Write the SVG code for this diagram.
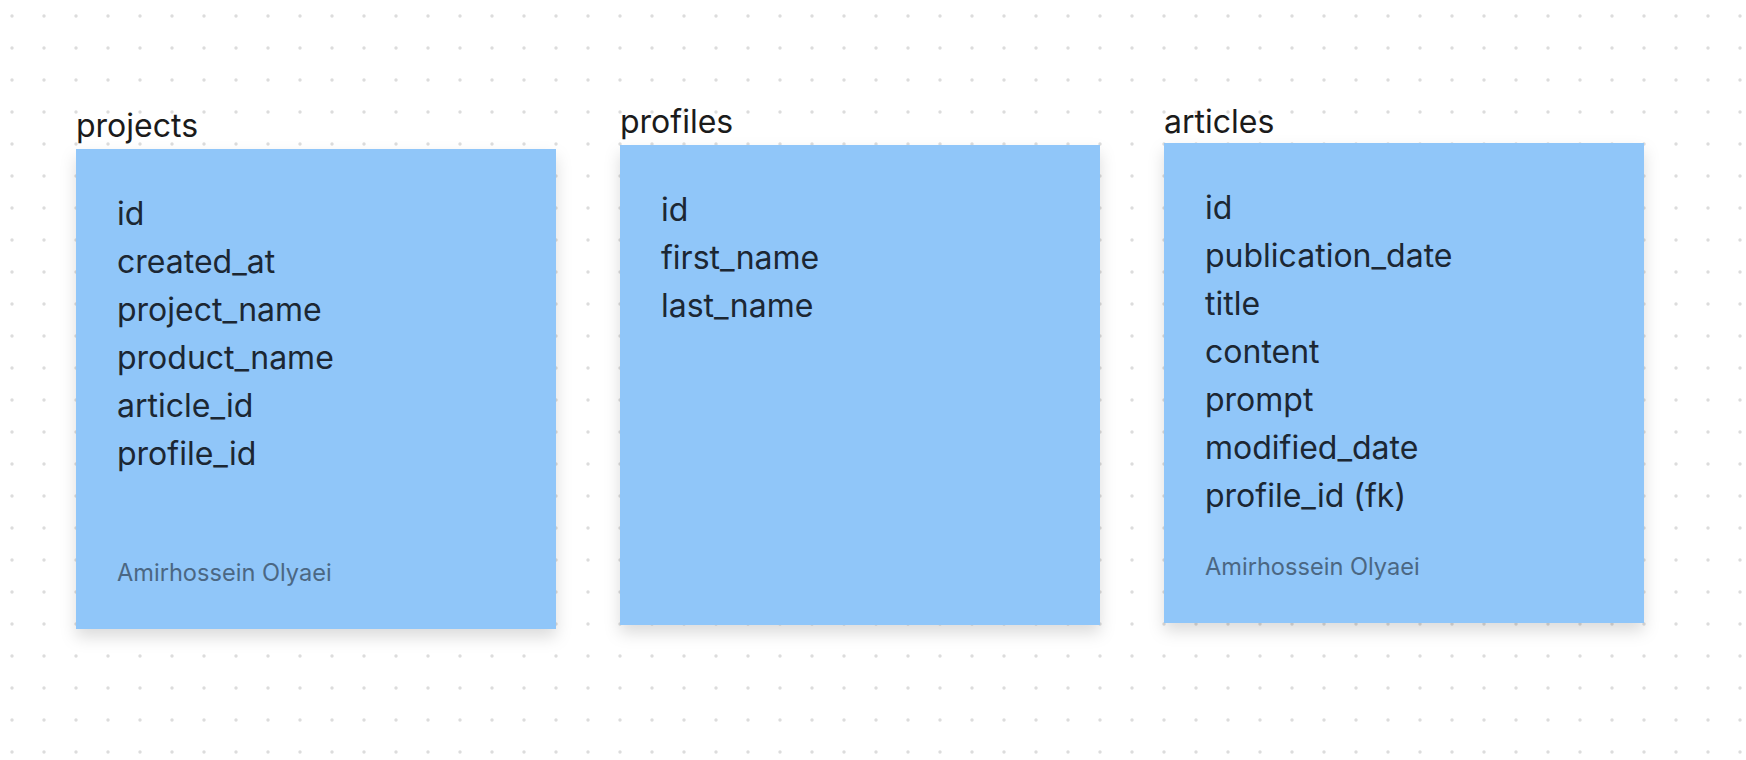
<svg xmlns="http://www.w3.org/2000/svg" width="1746" height="760" viewBox="0 0 1746 760">
  <defs>
    <pattern id="dots" x="0" y="0" width="32" height="32" patternUnits="userSpaceOnUse">
      <circle cx="12" cy="16" r="1.7" fill="#dcdcdc"/>
    </pattern>
    <filter id="shadow" x="-10%" y="-10%" width="120%" height="130%">
      <feDropShadow dx="0" dy="8" stdDeviation="8" flood-color="#000000" flood-opacity="0.14"/>
    </filter>
    <style>
      .card { fill: #90c6f9; filter: url(#shadow); }
      .title { font-family: Inter, "Liberation Sans", sans-serif; font-size: 32px; fill: #1b1b1b; }
      .row { font-family: Inter, "Liberation Sans", sans-serif; font-size: 32px; fill: #1c2733; }
      .author { font-family: Inter, "Liberation Sans", sans-serif; font-size: 23.6px; fill: #4b6783; }
    </style>
  </defs>
  <rect x="0" y="0" width="1746" height="760" fill="#ffffff"/>
  <rect x="0" y="0" width="1746" height="760" fill="url(#dots)"/>

  <g id="connectors"></g>

  <g id="projects">
    <text class="title" x="76" y="137">projects</text>
    <rect class="card" x="76" y="149" width="480" height="480"/>
    <text class="row" x="117" y="225">id</text>
    <text class="row" x="117" y="273">created_at</text>
    <text class="row" x="117" y="321">project_name</text>
    <text class="row" x="117" y="369">product_name</text>
    <text class="row" x="117" y="417">article_id</text>
    <text class="row" x="117" y="465">profile_id</text>
    <text class="author" x="117" y="581">Amirhossein Olyaei</text>
  </g>

  <g id="profiles">
    <text class="title" x="620" y="133">profiles</text>
    <rect class="card" x="620" y="145" width="480" height="480"/>
    <text class="row" x="661" y="221">id</text>
    <text class="row" x="661" y="269">first_name</text>
    <text class="row" x="661" y="317">last_name</text>
  </g>

  <g id="articles">
    <text class="title" x="1164" y="133">articles</text>
    <rect class="card" x="1164" y="143" width="480" height="480"/>
    <text class="row" x="1205" y="219">id</text>
    <text class="row" x="1205" y="267">publication_date</text>
    <text class="row" x="1205" y="315">title</text>
    <text class="row" x="1205" y="363">content</text>
    <text class="row" x="1205" y="411">prompt</text>
    <text class="row" x="1205" y="459">modified_date</text>
    <text class="row" x="1205" y="507">profile_id (fk)</text>
    <text class="author" x="1205" y="575">Amirhossein Olyaei</text>
  </g>
</svg>
